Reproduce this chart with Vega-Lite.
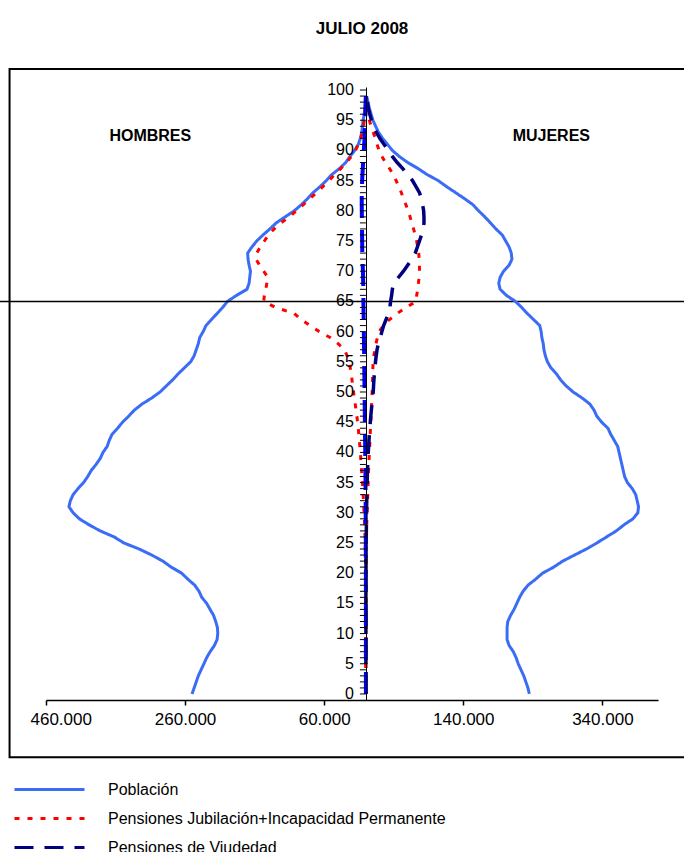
{
"$schema": "https://vega.github.io/schema/vega-lite/v6.json",
"autosize": {"type": "none"},
"width": 612,
"height": 613,
"padding": {"left": 46, "top": 87, "right": 26, "bottom": 152},
"background": "white",
"config": {"font": "Liberation Sans", "view": {"stroke": null}, "axis": {"labelOverlap": false, "labelBound": false, "grid": false, "title": null}},
"title": {"text": "JULIO 2008", "font": "Liberation Sans", "fontSize": 17, "fontWeight": "bold", "color": "black", "anchor": "middle", "frame": "group", "dx": 10, "offset": 17, "baseline": "alphabetic"},
"data": {"values": [
{"edad":0,"pH":-250000,"pM":235000,"jH":0,"jM":0,"vH":0,"vM":0},
{"edad":1,"pH":-247000,"pM":233000,"jH":0,"jM":0,"vH":0,"vM":0},
{"edad":2,"pH":-244000,"pM":230000,"jH":0,"jM":0,"vH":0,"vM":0},
{"edad":3,"pH":-241000,"pM":227000,"jH":0,"jM":0,"vH":0,"vM":0},
{"edad":4,"pH":-237000,"pM":223000,"jH":0,"jM":0,"vH":0,"vM":0},
{"edad":5,"pH":-233000,"pM":219000,"jH":0,"jM":0,"vH":0,"vM":0},
{"edad":6,"pH":-229000,"pM":216000,"jH":0,"jM":0,"vH":0,"vM":0},
{"edad":7,"pH":-224000,"pM":212000,"jH":0,"jM":0,"vH":0,"vM":0},
{"edad":8,"pH":-218000,"pM":206000,"jH":0,"jM":0,"vH":0,"vM":0},
{"edad":9,"pH":-214000,"pM":203000,"jH":0,"jM":0,"vH":0,"vM":0},
{"edad":10,"pH":-213000,"pM":203000,"jH":0,"jM":0,"vH":0,"vM":0},
{"edad":11,"pH":-213500,"pM":203000,"jH":0,"jM":0,"vH":0,"vM":0},
{"edad":12,"pH":-216000,"pM":204000,"jH":0,"jM":0,"vH":0,"vM":0},
{"edad":13,"pH":-219000,"pM":208000,"jH":0,"jM":0,"vH":0,"vM":0},
{"edad":14,"pH":-224000,"pM":213000,"jH":0,"jM":0,"vH":0,"vM":0},
{"edad":15,"pH":-229000,"pM":217000,"jH":0,"jM":0,"vH":0,"vM":0},
{"edad":16,"pH":-236000,"pM":221000,"jH":0,"jM":0,"vH":0,"vM":0},
{"edad":17,"pH":-240000,"pM":226000,"jH":0,"jM":0,"vH":0,"vM":0},
{"edad":18,"pH":-246000,"pM":233000,"jH":-100,"jM":50,"vH":0,"vM":0},
{"edad":19,"pH":-256000,"pM":244000,"jH":-200,"jM":80,"vH":0,"vM":0},
{"edad":20,"pH":-265000,"pM":254000,"jH":-300,"jM":100,"vH":-20,"vM":100},
{"edad":21,"pH":-280000,"pM":270000,"jH":-400,"jM":150,"vH":-30,"vM":150},
{"edad":22,"pH":-292000,"pM":283000,"jH":-500,"jM":200,"vH":-40,"vM":200},
{"edad":23,"pH":-308000,"pM":300000,"jH":-650,"jM":300,"vH":-60,"vM":250},
{"edad":24,"pH":-326000,"pM":317000,"jH":-800,"jM":400,"vH":-80,"vM":300},
{"edad":25,"pH":-348000,"pM":332000,"jH":-1000,"jM":500,"vH":-100,"vM":400},
{"edad":26,"pH":-362000,"pM":346000,"jH":-1200,"jM":700,"vH":-130,"vM":500},
{"edad":27,"pH":-382000,"pM":360000,"jH":-1500,"jM":900,"vH":-160,"vM":600},
{"edad":28,"pH":-398000,"pM":371000,"jH":-1800,"jM":1100,"vH":-200,"vM":700},
{"edad":29,"pH":-412000,"pM":384000,"jH":-2200,"jM":1400,"vH":-240,"vM":800},
{"edad":30,"pH":-421000,"pM":391000,"jH":-2600,"jM":1700,"vH":-290,"vM":900},
{"edad":31,"pH":-427000,"pM":392000,"jH":-3000,"jM":2000,"vH":-340,"vM":1000},
{"edad":32,"pH":-425000,"pM":390000,"jH":-3500,"jM":2300,"vH":-400,"vM":1200},
{"edad":33,"pH":-421000,"pM":388000,"jH":-4000,"jM":2600,"vH":-460,"vM":1400},
{"edad":34,"pH":-414000,"pM":383000,"jH":-4500,"jM":2900,"vH":-520,"vM":1600},
{"edad":35,"pH":-406000,"pM":376000,"jH":-5000,"jM":3200,"vH":-590,"vM":1800},
{"edad":36,"pH":-400000,"pM":372000,"jH":-5600,"jM":3500,"vH":-660,"vM":2000},
{"edad":37,"pH":-395000,"pM":370000,"jH":-6200,"jM":3800,"vH":-740,"vM":2300},
{"edad":38,"pH":-388000,"pM":368000,"jH":-6800,"jM":4200,"vH":-820,"vM":2600},
{"edad":39,"pH":-382000,"pM":366000,"jH":-7400,"jM":4600,"vH":-900,"vM":3000},
{"edad":40,"pH":-378000,"pM":364000,"jH":-8000,"jM":5000,"vH":-980,"vM":3400},
{"edad":41,"pH":-372000,"pM":362000,"jH":-8700,"jM":5400,"vH":-1060,"vM":3900},
{"edad":42,"pH":-369000,"pM":357000,"jH":-9400,"jM":5800,"vH":-1150,"vM":4400},
{"edad":43,"pH":-365000,"pM":352000,"jH":-10200,"jM":6200,"vH":-1250,"vM":5000},
{"edad":44,"pH":-357000,"pM":348000,"jH":-11000,"jM":6600,"vH":-1350,"vM":5600},
{"edad":45,"pH":-350000,"pM":339000,"jH":-12000,"jM":7000,"vH":-1450,"vM":6300},
{"edad":46,"pH":-341000,"pM":332000,"jH":-13000,"jM":7400,"vH":-1550,"vM":7000},
{"edad":47,"pH":-333000,"pM":328000,"jH":-14200,"jM":7800,"vH":-1650,"vM":7800},
{"edad":48,"pH":-322000,"pM":322000,"jH":-15400,"jM":8200,"vH":-1750,"vM":8700},
{"edad":49,"pH":-308000,"pM":311000,"jH":-16600,"jM":8600,"vH":-1850,"vM":9600},
{"edad":50,"pH":-296000,"pM":298000,"jH":-17800,"jM":9000,"vH":-1950,"vM":10500},
{"edad":51,"pH":-287000,"pM":288000,"jH":-19000,"jM":9400,"vH":-2050,"vM":11000},
{"edad":52,"pH":-278000,"pM":280000,"jH":-20000,"jM":9600,"vH":-2150,"vM":11500},
{"edad":53,"pH":-270000,"pM":274000,"jH":-21000,"jM":9800,"vH":-2250,"vM":12200},
{"edad":54,"pH":-261000,"pM":266000,"jH":-22500,"jM":10000,"vH":-2350,"vM":13000},
{"edad":55,"pH":-252000,"pM":261000,"jH":-24500,"jM":10500,"vH":-2450,"vM":13800},
{"edad":56,"pH":-247000,"pM":258000,"jH":-27000,"jM":11500,"vH":-2550,"vM":14800},
{"edad":57,"pH":-244000,"pM":256000,"jH":-31000,"jM":13000,"vH":-2650,"vM":16000},
{"edad":58,"pH":-241000,"pM":255000,"jH":-40000,"jM":14500,"vH":-2750,"vM":18000},
{"edad":59,"pH":-239000,"pM":253000,"jH":-51000,"jM":16500,"vH":-2900,"vM":20500},
{"edad":60,"pH":-234000,"pM":252000,"jH":-67000,"jM":19000,"vH":-3000,"vM":23000},
{"edad":61,"pH":-230000,"pM":250000,"jH":-80000,"jM":25000,"vH":-3100,"vM":25500},
{"edad":62,"pH":-222000,"pM":241000,"jH":-93000,"jM":34000,"vH":-3200,"vM":29000},
{"edad":63,"pH":-214000,"pM":232000,"jH":-103000,"jM":45000,"vH":-3350,"vM":32500},
{"edad":64,"pH":-206000,"pM":224000,"jH":-130000,"jM":58000,"vH":-3500,"vM":34500},
{"edad":65,"pH":-199000,"pM":215000,"jH":-147000,"jM":72000,"vH":-3600,"vM":35500},
{"edad":66,"pH":-186000,"pM":202000,"jH":-146000,"jM":73000,"vH":-3700,"vM":37000},
{"edad":67,"pH":-171000,"pM":193000,"jH":-144000,"jM":74500,"vH":-3800,"vM":38000},
{"edad":68,"pH":-168000,"pM":191000,"jH":-142500,"jM":75500,"vH":-3900,"vM":40000},
{"edad":69,"pH":-167000,"pM":193000,"jH":-141000,"jM":76500,"vH":-4100,"vM":47000},
{"edad":70,"pH":-166000,"pM":198000,"jH":-147000,"jM":77000,"vH":-4300,"vM":54000},
{"edad":71,"pH":-168000,"pM":206000,"jH":-153000,"jM":77000,"vH":-4600,"vM":60000},
{"edad":72,"pH":-169500,"pM":210000,"jH":-158000,"jM":76500,"vH":-4900,"vM":66000},
{"edad":73,"pH":-170000,"pM":209000,"jH":-157000,"jM":76000,"vH":-5200,"vM":71000},
{"edad":74,"pH":-164000,"pM":206000,"jH":-152000,"jM":74500,"vH":-5300,"vM":74000},
{"edad":75,"pH":-157000,"pM":201000,"jH":-146000,"jM":73000,"vH":-5400,"vM":77000},
{"edad":76,"pH":-148000,"pM":196000,"jH":-140000,"jM":71000,"vH":-5500,"vM":80000},
{"edad":77,"pH":-138000,"pM":187000,"jH":-132000,"jM":68500,"vH":-5600,"vM":82500},
{"edad":78,"pH":-129000,"pM":179000,"jH":-122000,"jM":66000,"vH":-5700,"vM":83500},
{"edad":79,"pH":-116000,"pM":171000,"jH":-110000,"jM":63500,"vH":-5800,"vM":83500},
{"edad":80,"pH":-103000,"pM":162000,"jH":-100000,"jM":61000,"vH":-5900,"vM":83000},
{"edad":81,"pH":-93000,"pM":154000,"jH":-90000,"jM":57500,"vH":-6000,"vM":81500},
{"edad":82,"pH":-84000,"pM":142000,"jH":-81000,"jM":54000,"vH":-6000,"vM":80000},
{"edad":83,"pH":-76000,"pM":129000,"jH":-71000,"jM":51000,"vH":-5900,"vM":77000},
{"edad":84,"pH":-66000,"pM":116000,"jH":-62000,"jM":47000,"vH":-5700,"vM":72000},
{"edad":85,"pH":-57000,"pM":104000,"jH":-53000,"jM":43500,"vH":-5400,"vM":67000},
{"edad":86,"pH":-49000,"pM":88000,"jH":-45000,"jM":39500,"vH":-5000,"vM":60000},
{"edad":87,"pH":-38000,"pM":75000,"jH":-36000,"jM":34000,"vH":-4500,"vM":53000},
{"edad":88,"pH":-29000,"pM":60000,"jH":-28000,"jM":28000,"vH":-4000,"vM":45000},
{"edad":89,"pH":-23000,"pM":48000,"jH":-21000,"jM":23000,"vH":-3500,"vM":38000},
{"edad":90,"pH":-16000,"pM":38000,"jH":-15000,"jM":19000,"vH":-3000,"vM":32000},
{"edad":91,"pH":-11000,"pM":31000,"jH":-11000,"jM":16000,"vH":-2500,"vM":26000},
{"edad":92,"pH":-8000,"pM":24000,"jH":-7500,"jM":13500,"vH":-2000,"vM":20000},
{"edad":93,"pH":-6000,"pM":18000,"jH":-5000,"jM":10500,"vH":-1600,"vM":15000},
{"edad":94,"pH":-5000,"pM":14000,"jH":-3500,"jM":7500,"vH":-1200,"vM":11000},
{"edad":95,"pH":-4000,"pM":10000,"jH":-2300,"jM":5000,"vH":-900,"vM":8000},
{"edad":96,"pH":-2500,"pM":7500,"jH":-1500,"jM":3500,"vH":-600,"vM":5500},
{"edad":97,"pH":-1500,"pM":5000,"jH":-900,"jM":2200,"vH":-400,"vM":3500},
{"edad":98,"pH":-1000,"pM":3000,"jH":-500,"jM":1300,"vH":-250,"vM":2200},
{"edad":99,"pH":-500,"pM":1000,"jH":-250,"jM":700,"vH":-150,"vM":1200},
{"edad":100}
]},
"layer": [
{"mark": {"type": "line", "strokeWidth": 3},
 "encoding": {
  "x": {"field": "pH", "type": "quantitative",
        "scale": {"domain": [-460000, 420000], "nice": false, "zero": false},
        "axis": {"title": null, "grid": false, "values": [-460000, -260000, -60000, 140000, 340000], "labelExpr": "replace(format(abs(datum.value), ','), ',', '.')", "tickSize": 5, "tickWidth": 1.5, "tickColor": "black", "domainColor": "black", "domainWidth": 1.5, "labelColor": "black", "labelFont": "Liberation Sans", "labelFontSize": 17, "labelPadding": 6, "labelOverlap": false, "labelBound": false, "labelFlush": true, "labelFlushOffset": 16}},
  "y": {"field": "edad", "type": "quantitative",
        "scale": {"domain": [-1, 100.5], "nice": false, "zero": false},
        "axis": {"title": null, "grid": false, "orient": "left", "offset": -320, "zindex": 1, "labels": false, "ticks": false, "domainColor": "black", "domainWidth": 1}},
  "order": {"field": "edad", "type": "quantitative"},
  "color": {"datum": "Población",
            "scale": {"domain": ["Población", "Pensiones Jubilación+Incapacidad Permanente", "Pensiones de Viudedad"], "range": ["#3b6cf6", "#ff0000", "#000080"]},
            "legend": {"title": null, "orient": "none", "legendX": -5, "legendY": 694, "symbolType": "M-5,0H5", "symbolSize": 196, "symbolStrokeWidth": 3, "labelFont": "Liberation Sans", "labelFontSize": 16, "labelColor": "black", "labelOffset": 50, "rowPadding": 12, "padding": 0, "labelLimit": 0}},
  "strokeDash": {"datum": "Población",
            "scale": {"domain": ["Población", "Pensiones Jubilación+Incapacidad Permanente", "Pensiones de Viudedad"], "range": [[1, 0], [5, 8], [19, 11]]},
            "legend": {"title": null, "orient": "none", "legendX": -5, "legendY": 694, "symbolType": "M-5,0H5", "symbolSize": 196, "symbolStrokeWidth": 3, "labelFont": "Liberation Sans", "labelFontSize": 16, "labelColor": "black", "labelOffset": 50, "rowPadding": 12, "padding": 0, "labelLimit": 0}}
 }},
{"data": {"values": [{}]},
 "mark": {"type": "rect", "filled": false, "stroke": "black", "strokeWidth": 2},
 "encoding": {"x": {"datum": -512400, "type": "quantitative"}, "x2": {"datum": 480000}, "y": {"datum": -10.5, "type": "quantitative"}, "y2": {"datum": 103.5}}},
{"data": {"values": [{}]},
 "mark": {"type": "rule", "stroke": "black", "strokeWidth": 1.5},
 "encoding": {"x": {"datum": -530000, "type": "quantitative"}, "x2": {"datum": 480000}, "y": {"datum": 65, "type": "quantitative"}}},
{"data": {"values": [{}]},
 "mark": {"type": "text", "text": "HOMBRES", "font": "Liberation Sans", "fontSize": 16, "fontWeight": "bold", "color": "black", "align": "center", "baseline": "middle"},
 "encoding": {"x": {"datum": -310000, "type": "quantitative"}, "y": {"datum": 92.4, "type": "quantitative"}}},
{"data": {"values": [{}]},
 "mark": {"type": "text", "text": "MUJERES", "font": "Liberation Sans", "fontSize": 16, "fontWeight": "bold", "color": "black", "align": "center", "baseline": "middle"},
 "encoding": {"x": {"datum": 266600, "type": "quantitative"}, "y": {"datum": 92.4, "type": "quantitative"}}},
{"mark": {"type": "line", "strokeWidth": 3},
 "encoding": {
  "x": {"field": "pM", "type": "quantitative"},
  "y": {"field": "edad", "type": "quantitative"},
  "order": {"field": "edad", "type": "quantitative"},
  "color": {"datum": "Población"},
  "strokeDash": {"datum": "Población"}
 }},
{"mark": {"type": "line", "strokeWidth": 3},
 "encoding": {
  "x": {"field": "jH", "type": "quantitative"},
  "y": {"field": "edad", "type": "quantitative"},
  "order": {"field": "edad", "type": "quantitative"},
  "color": {"datum": "Pensiones Jubilación+Incapacidad Permanente"},
  "strokeDash": {"datum": "Pensiones Jubilación+Incapacidad Permanente"}
 }},
{"mark": {"type": "line", "strokeWidth": 3},
 "encoding": {
  "x": {"field": "jM", "type": "quantitative"},
  "y": {"field": "edad", "type": "quantitative"},
  "order": {"field": "edad", "type": "quantitative"},
  "color": {"datum": "Pensiones Jubilación+Incapacidad Permanente"},
  "strokeDash": {"datum": "Pensiones Jubilación+Incapacidad Permanente"}
 }},
{"mark": {"type": "line", "strokeWidth": 3.5},
 "encoding": {
  "x": {"field": "vM", "type": "quantitative"},
  "y": {"field": "edad", "type": "quantitative"},
  "order": {"field": "edad", "type": "quantitative"},
  "color": {"datum": "Pensiones de Viudedad"},
  "strokeDash": {"datum": "Pensiones de Viudedad"}
 }},
{"mark": {"type": "line", "strokeWidth": 4, "color": "#0000ff", "strokeDash": [22, 12]},
 "encoding": {
  "x": {"field": "vH", "type": "quantitative"},
  "y": {"field": "edad", "type": "quantitative"},
  "order": {"field": "edad", "type": "quantitative"}
 }},
{"mark": {"type": "tick", "orient": "horizontal", "size": 6, "thickness": 1, "color": "black", "opacity": 1, "xOffset": -3},
 "encoding": {
  "x": {"datum": 0, "type": "quantitative"},
  "y": {"field": "edad", "type": "quantitative"}
 }},
{"transform": [{"filter": "datum.edad % 5 === 0"}],
 "mark": {"type": "text", "align": "right", "baseline": "middle", "dx": -12, "font": "Liberation Sans", "fontSize": 16, "color": "black"},
 "encoding": {
  "x": {"datum": 0, "type": "quantitative"},
  "y": {"field": "edad", "type": "quantitative"},
  "text": {"field": "edad", "type": "quantitative"}
 }}
]
}
